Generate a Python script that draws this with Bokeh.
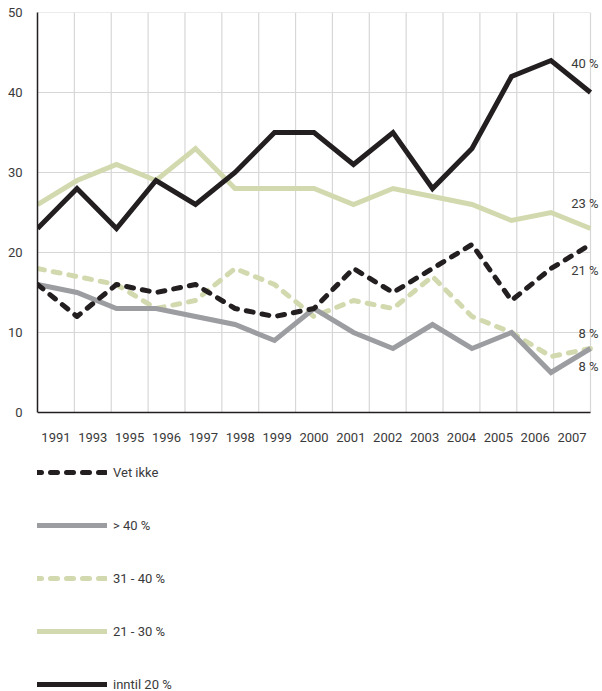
from bokeh.plotting import figure
from bokeh.models import Range1d, FixedTicker, Legend, LegendItem, Label
from bokeh.core.properties import value
from bokeh.embed import file_html
from bokeh.resources import INLINE

years = ["1991", "1993", "1995", "1996", "1997", "1998", "1999", "2000",
         "2001", "2002", "2003", "2004", "2005", "2006", "2007"]
vet_ikke = [16, 12, 16, 15, 16, 13, 12, 13, 18, 15, 18, 21, 14, 18, 21]
over_40 = [16, 15, 13, 13, 12, 11, 9, 13, 10, 8, 11, 8, 10, 5, 8]
p31_40 = [18, 17, 16, 13, 14, 18, 16, 12, 14, 13, 17, 12, 10, 7, 8]
p21_30 = [26, 29, 31, 29, 33, 28, 28, 28, 26, 28, 27, 26, 24, 25, 23]
inntil_20 = [23, 28, 23, 29, 26, 30, 35, 35, 31, 35, 28, 33, 42, 44, 40]
y_ticks = [0, 10, 20, 30, 40, 50]

FONT = "Roboto"
TXT = "#3a3a3a"
BLACK = "#231f20"
GREEN = "#d3d9ae"
GRAY = "#9c9da1"
GRID = "#d7d7d7"

n = len(years)
ymax = y_ticks[-1]
# points run edge to edge over n category columns
xs = [i * n / (n - 1) for i in range(n)]

# layout (pixels)
W, H = 602, 691
LEFT, TOP = 37, 12
ZERO_Y = 412            # canvas y of value 0
PLOT_W = 553            # width of gridded area
FRAME_W = W - LEFT - 2
px_per_unit = (ZERO_Y - TOP) / ymax
y_start = -(H - ZERO_Y) / px_per_unit

p = figure(width=W, height=H, output_backend="svg", toolbar_location=None,
           x_axis_location=None,
           x_range=Range1d(0, n * FRAME_W / PLOT_W),
           y_range=Range1d(y_start, ymax),
           min_border_left=LEFT, min_border_right=2, min_border_top=TOP,
           min_border_bottom=0)
p.outline_line_color = None
p.background_fill_color = "white"
p.xgrid.visible = False
p.ygrid.visible = False

# grid lines limited to the 0..50 area
p.segment(x0=list(range(1, n + 1)), x1=list(range(1, n + 1)),
          y0=0, y1=ymax, line_color=GRID, line_width=1.2)
p.segment(x0=0, x1=n, y0=y_ticks[1:], y1=y_ticks[1:],
          line_color=GRID, line_width=1.2)
# x axis line
p.segment(x0=0, x1=n, y0=0, y1=0, line_color=BLACK, line_width=1.5)
# category labels between grid lines
p.text(x=[i + 0.5 for i in range(n)], y=[0] * n, text=years,
       y_offset=25, text_align="center", text_baseline="middle",
       text_font=value(FONT), text_font_size="13px", text_color=TXT)

# y axis
p.yaxis.ticker = FixedTicker(ticks=y_ticks)
p.yaxis.bounds = (0, ymax)
p.yaxis.axis_line_color = BLACK
p.yaxis.axis_line_width = 1.5
p.yaxis.major_tick_line_color = None
p.yaxis.minor_tick_line_color = None
p.yaxis.major_label_text_font = FONT
p.yaxis.major_label_text_font_size = "13px"
p.yaxis.major_label_text_color = TXT
p.yaxis.major_label_standoff = 9

r2130 = p.line(xs, p21_30, line_color=GREEN, line_width=5, line_join="miter")
r3140 = p.line(xs, p31_40, line_color=GREEN, line_width=5, line_dash="7 9",
               line_cap="round", line_join="round")
r40 = p.line(xs, over_40, line_color=GRAY, line_width=5, line_join="miter")
rvet = p.line(xs, vet_ikke, line_color=BLACK, line_width=5, line_dash="7 9",
              line_cap="round", line_join="round")
r20 = p.line(xs, inntil_20, line_color=BLACK, line_width=5, line_join="miter")

# end labels
end_series = [inntil_20, p21_30, vet_ikke, p31_40, over_40]
end_offsets = [29, 25, -26, 15, -18]
for s, off in zip(end_series, end_offsets):
    p.add_layout(Label(x=n, y=s[-1], x_offset=8, y_offset=off,
                       text=f"{s[-1]} %", text_align="right",
                       text_baseline="middle", text_font=FONT,
                       text_font_size="13px", text_color=TXT))

legend = Legend(items=[
    LegendItem(label="Vet ikke", renderers=[rvet]),
    LegendItem(label="> 40 %", renderers=[r40]),
    LegendItem(label="31 - 40 %", renderers=[r3140]),
    LegendItem(label="21 - 30 %", renderers=[r2130]),
    LegendItem(label="inntil 20 %", renderers=[r20]),
], location=(-3, -3), orientation="vertical",
    glyph_width=73, glyph_height=20, label_height=20, spacing=33,
    label_standoff=6, padding=0, margin=0,
    border_line_color=None, background_fill_alpha=0,
    label_text_font=FONT, label_text_font_size="13px", label_text_color=TXT)
p.add_layout(legend, "center")

open("out.html", "w").write(file_html(p, INLINE))
